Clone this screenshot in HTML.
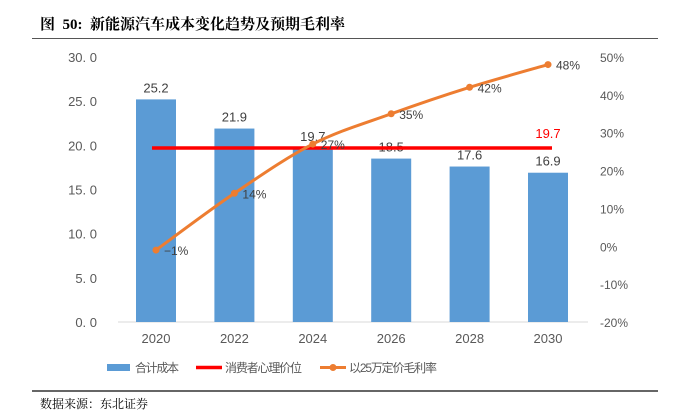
<!DOCTYPE html>
<html><head><meta charset="utf-8"><style>
body{margin:0;background:#fff;width:676px;height:413px;overflow:hidden;font-family:"Liberation Sans","Noto Sans CJK SC",sans-serif;}
</style></head><body>
<svg id="c" width="676" height="413" xmlns="http://www.w3.org/2000/svg">
<text x="40" y="29" font-size="15" font-weight="bold" font-family="'Liberation Serif','Noto Serif CJK SC',serif" fill="#000" xml:space="preserve">图  50:  新能源汽车成本变化趋势及预期毛利率</text>
<line x1="32" y1="38.5" x2="658" y2="38.5" stroke="#555" stroke-width="1"/>
<line x1="32" y1="391" x2="658" y2="391" stroke="#333" stroke-width="1.5"/>
<text x="40" y="408" font-size="12" font-family="'Liberation Serif','Noto Serif CJK SC',serif" fill="#000">数据来源：东北证券</text>
<g id="plot"></g>
</svg>
<script>
const categories=["2020","2022","2024","2026","2028","2030"];
const costValues=[25.2,21.9,19.7,18.5,17.6,16.9];
const priceValue=19.7;
const marginValues=[-1,14,27,35,42,48];
const leftTicks=[0,5,10,15,20,25,30];
const rightTicks=[-20,-10,0,10,20,30,40,50];
const NS="http://www.w3.org/2000/svg";
const g=document.getElementById('plot');
const yL=v=>322-v*(265/30);
const yR=v=>322-(v+20)*(265/70);
const x=i=>156+i*78.4;
function mk(t,a,txt){const e=document.createElementNS(NS,t);for(const k in a)e.setAttribute(k,a[k]);if(txt!==undefined)e.textContent=txt;g.appendChild(e);return e;}
leftTicks.forEach(v=>{const e=mk('text',{x:97,y:yL(v)+5,'font-size':13,fill:'#595959','text-anchor':'end'},v.toFixed(1).replace('.','. '));

});
rightTicks.forEach(v=>{const e=mk('text',{x:600,y:yR(v)+5,'font-size':12,fill:'#595959'},v+'%');

});
const ax=mk('line',{x1:118,y1:322,x2:588,y2:322,stroke:'#d9d9d9'});


categories.forEach((c,i)=>{
const b=mk('rect',{x:x(i)-20,y:yL(costValues[i]),width:40,height:322-yL(costValues[i]),fill:'#5b9bd5'});


const t=mk('text',{x:x(i),y:yL(costValues[i])-7,'font-size':13,fill:'#404040','text-anchor':'middle'},costValues[i].toFixed(1));


const l=mk('text',{x:x(i),y:343,'font-size':13,fill:'#595959','text-anchor':'middle'},c);


});
const pl=mk('line',{x1:x(0)-4,y1:yL(priceValue),x2:x(5)+4,y2:yL(priceValue),stroke:'#ff0000','stroke-width':3.5});


const pt=mk('text',{x:x(5),y:yL(priceValue)-10,'font-size':13,fill:'#ff0000','text-anchor':'middle'},priceValue.toFixed(1));


const P=marginValues.map((v,i)=>[x(i),yR(v)]);
let d='M'+P[0][0]+','+P[0][1];
for(let i=0;i<P.length-1;i++){const p0=P[Math.max(0,i-1)],p1=P[i],p2=P[i+1],p3=P[Math.min(P.length-1,i+2)];const k=1/6;
d+=` C${p1[0]+(p2[0]-p0[0])*k},${p1[1]+(p2[1]-p0[1])*k} ${p2[0]-(p3[0]-p1[0])*k},${p2[1]-(p3[1]-p1[1])*k} ${p2[0]},${p2[1]}`;}
const ml=mk('path',{d:d,fill:'none',stroke:'#ed7d31','stroke-width':3});


P.forEach((p,i)=>{const c=mk('circle',{cx:p[0],cy:p[1],r:3.5,fill:'#ed7d31'});


const t=mk('text',{x:p[0]+8,y:p[1]+5,'font-size':12,fill:'#404040'},(marginValues[i]<0?'−':'')+Math.abs(marginValues[i])+'%');

});
let e=mk('rect',{x:107,y:364,width:23,height:7,fill:'#5b9bd5'});


e=mk('line',{x1:196,y1:367.5,x2:222,y2:367.5,stroke:'#ff0000','stroke-width':3.5});


e=mk('line',{x1:320,y1:367.5,x2:346,y2:367.5,stroke:'#ed7d31','stroke-width':3});


e=mk('circle',{cx:333,cy:367.5,r:3.5,fill:'#ed7d31'});


[['合计成本',135,44],['消费者心理价位',225,77],['以25万定价毛利率',349,88]].forEach(a=>{const t=mk('text',{x:a[1],y:372,'font-size':12,fill:'#595959',textLength:a[2],lengthAdjust:'spacing'},a[0]);

});
</script>
</body></html>
